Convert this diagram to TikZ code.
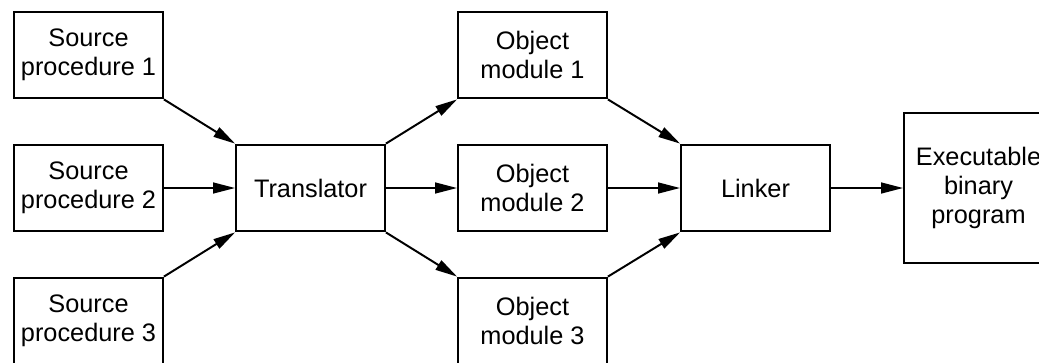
\documentclass[tikz,border=0pt]{standalone}
\usepackage{fontspec}
\setmainfont{Liberation Sans}
\usetikzlibrary{arrows.meta}

\begin{document}
\begin{tikzpicture}[x=0.025cm, y=-0.025cm,
		box/.style={draw, line width=1.4pt, minimum width=3.72cm, minimum height=2.17cm, align=center, inner sep=0pt, font=\fontsize{18}{20.5}\selectfont},
		arr/.style={line width=1.4pt, -{Stealth[length=0.55cm, width=0.27cm, inset=0pt]}}]
			%%%%% START %%%%%
			
			\useasboundingbox (0, 0) rectangle (1039, 362);
			
			\node[box] (src1) at (88.5, 55) {Source\\procedure 1};
			\node[box] (src2) at (88.5, 188) {Source\\procedure 2};
			\node[box] (src3) at (88.5, 321) {Source\\procedure 3};
			
			\node[box] (trans) at (310.5, 188) {Translator};
			
			\node[box] (obj1) at (532.5, 55) {Object\\module 1};
			\node[box] (obj2) at (532.5, 188) {Object\\module 2};
			\node[box] (obj3) at (532.5, 321) {Object\\module 3};
			
			\node[box] (link) at (755.5, 188) {Linker};
			
			\node[box, minimum height=3.77cm] (exe) at (978.5, 188) {Executable\\binary\\program};
			
			\draw[arr] (src1.south east) -- (trans.north west);
			\draw[arr] (src2.east) -- (trans.west);
			\draw[arr] (src3.north east) -- (trans.south west);
			
			\draw[arr] (trans.north east) -- (obj1.south west);
			\draw[arr] (trans.east) -- (obj2.west);
			\draw[arr] (trans.south east) -- (obj3.north west);
			
			\draw[arr] (obj1.south east) -- (link.north west);
			\draw[arr] (obj2.east) -- (link.west);
			\draw[arr] (obj3.north east) -- (link.south west);
			
			\draw[arr] (link.east) -- (exe.west);
			
			%%%%% END %%%%%
		\end{tikzpicture}
\end{document}
